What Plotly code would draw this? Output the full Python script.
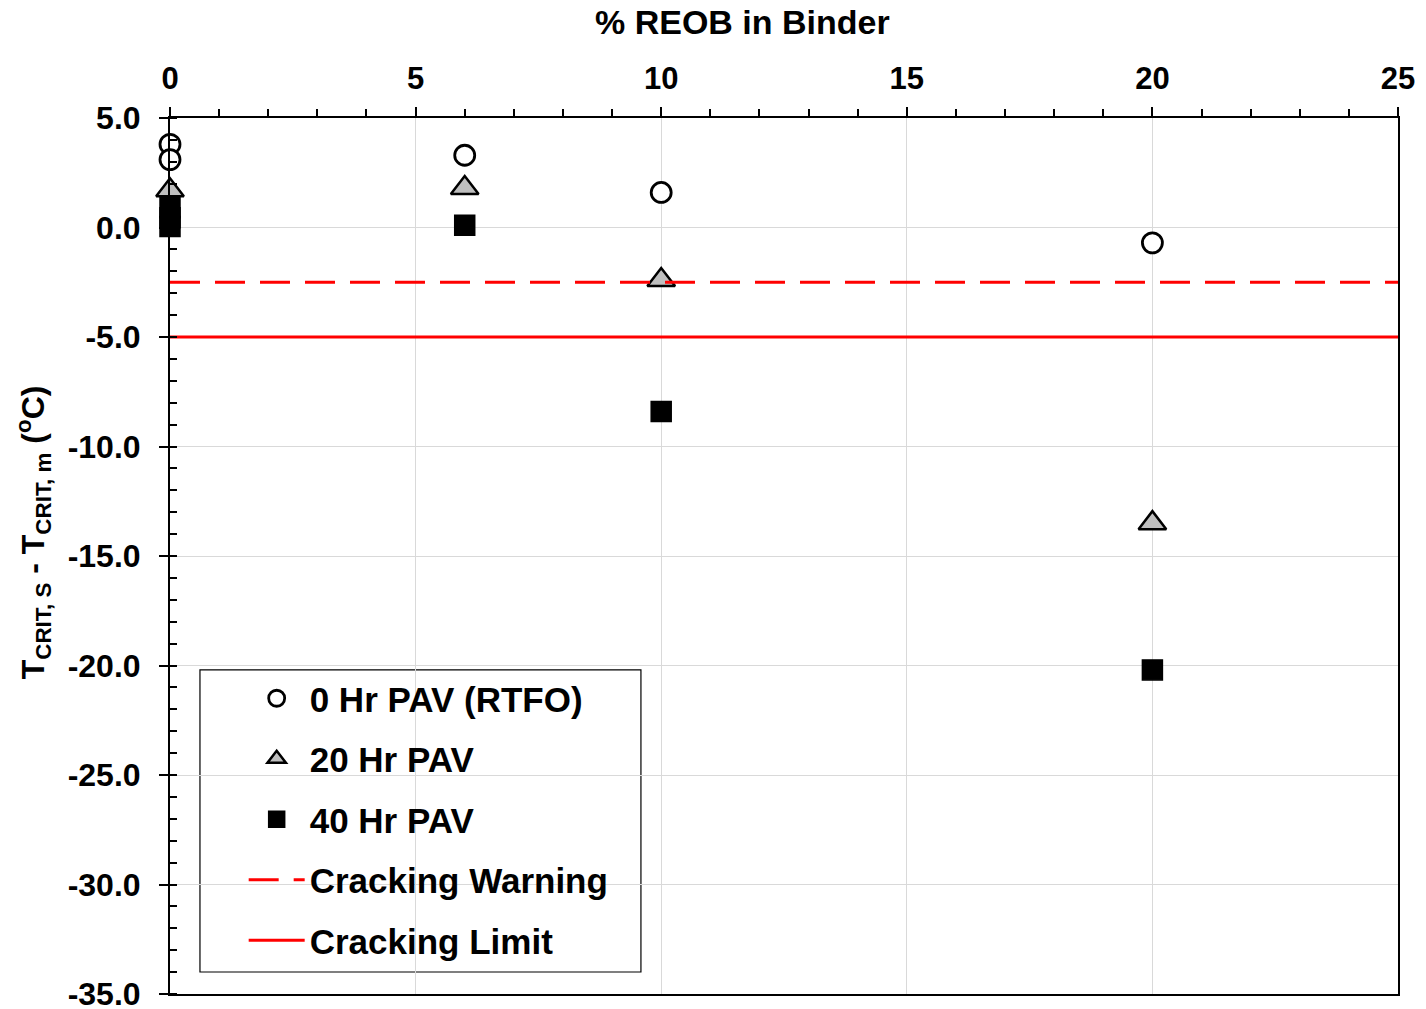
import plotly.graph_objects as go

# % REOB in binder vs. delta Tcrit (S - m)
reob_0hr = [0, 0, 6, 10, 20]
dtc_0hr = [3.8, 3.1, 3.3, 1.6, -0.7]

reob_20hr = [0, 6, 10, 20]
dtc_20hr = [1.7, 1.8, -2.4, -13.5]

reob_40hr = [0, 0, 0, 6, 10, 20]
dtc_40hr = [0.9, 0.45, 0.05, 0.1, -8.4, -20.2]

x_span = [0, 25]
warning_level = -2.5
limit_level = -5.0

y_tickvals = [5, 0, -5, -10, -15, -20, -25, -30, -35]
y_ticktext = ["5.0", "0.0", "-5.0", "-10.0", "-15.0", "-20.0", "-25.0", "-30.0", "-35.0"]

FONT = "Liberation Sans, Arial, sans-serif"

fig = go.Figure()
fig.add_trace(go.Scatter(
    x=reob_0hr, y=dtc_0hr, mode="markers", name="0 Hr PAV (RTFO)",
    legendgroup="a", cliponaxis=False,
    marker=dict(symbol="circle", size=20, color="white",
                line=dict(color="black", width=2.8))))
fig.add_trace(go.Scatter(
    x=reob_20hr, y=dtc_20hr, mode="markers", name="20 Hr PAV",
    legendgroup="b", cliponaxis=False,
    marker=dict(symbol="triangle-up", size=24, color="#bfbfbf",
                line=dict(color="black", width=2.5))))
fig.add_trace(go.Scatter(
    x=reob_40hr, y=dtc_40hr, mode="markers", name="40 Hr PAV",
    legendgroup="c", cliponaxis=False,
    marker=dict(symbol="square", size=20, color="black",
                line=dict(color="black", width=1.5))))
fig.add_trace(go.Scatter(
    x=x_span, y=[warning_level] * 2, mode="lines", name="Cracking Warning",
    legendgroup="d",
    line=dict(color="red", width=3, dash="30px,15px")))
fig.add_trace(go.Scatter(
    x=x_span, y=[limit_level] * 2, mode="lines", name="Cracking Limit",
    legendgroup="e",
    line=dict(color="red", width=3)))

# page has an 8px body margin, figure offset accounts for it
fig.update_layout(
    width=1410, height=1001,
    margin=dict(l=162, r=20, t=110, b=15),
    paper_bgcolor="white", plot_bgcolor="white",
    font=dict(family=FONT, size=30, color="black", weight="bold"),
    legend=dict(
        x=0.06, y=0.371, xanchor="left", yanchor="top",
        bgcolor="rgba(0,0,0,0)", borderwidth=0,
        font=dict(size=35, family=FONT, weight="bold"),
        tracegroupgap=12, itemwidth=56,
    ),
    shapes=[dict(type="rect", xref="paper", yref="paper",
                 x0=0.0244, x1=0.3835, y0=0.0251, y1=0.3699,
                 line=dict(color="black", width=1.2),
                 fillcolor="white", layer="between")],
    annotations=[
        dict(text="T<sub>CRIT, S</sub> - T<sub>CRIT, m</sub> (<sup>o</sup>C)",
             xref="paper", yref="paper", x=-0.1116, y=0.527,
             xanchor="center", yanchor="middle", textangle=-90, showarrow=False,
             font=dict(size=32, family=FONT, weight="bold")),
        dict(text="% REOB in Binder",
             xref="paper", yref="paper", x=0.4658, y=1.1096,
             xanchor="center", yanchor="middle", showarrow=False,
             font=dict(size=34, family=FONT, weight="bold")),
    ],
)

fig.update_xaxes(
    range=x_span, side="top", dtick=5, automargin=False,
    showline=True, linecolor="black", linewidth=2, mirror=True,
    showgrid=True, gridcolor="#d9d9d9", gridwidth=1, zeroline=False,
    ticks="outside", ticklen=9, tickwidth=2, tickcolor="black",
    minor=dict(ticks="outside", dtick=1, ticklen=7, tickwidth=1.5,
               tickcolor="black", showgrid=False),
    ticklabelstandoff=6, ticklabeloverflow="allow",
    tickfont=dict(size=31, family=FONT, weight="bold"),
)
fig.update_yaxes(
    range=[-35, 5], tickmode="array", tickvals=y_tickvals, ticktext=y_ticktext,
    automargin=False,
    showline=True, linecolor="black", linewidth=2, mirror=True,
    showgrid=True, gridcolor="#d9d9d9", gridwidth=1, zeroline=False,
    ticks="outside", ticklen=9, tickwidth=2, tickcolor="black",
    minor=dict(ticks="inside", dtick=1, ticklen=7, tickwidth=1.5,
               tickcolor="black", showgrid=False),
    ticklabelstandoff=12, ticklabeloverflow="allow",
    tickfont=dict(size=32, family=FONT, weight="bold"),
)

fig.write_html("out.html")
